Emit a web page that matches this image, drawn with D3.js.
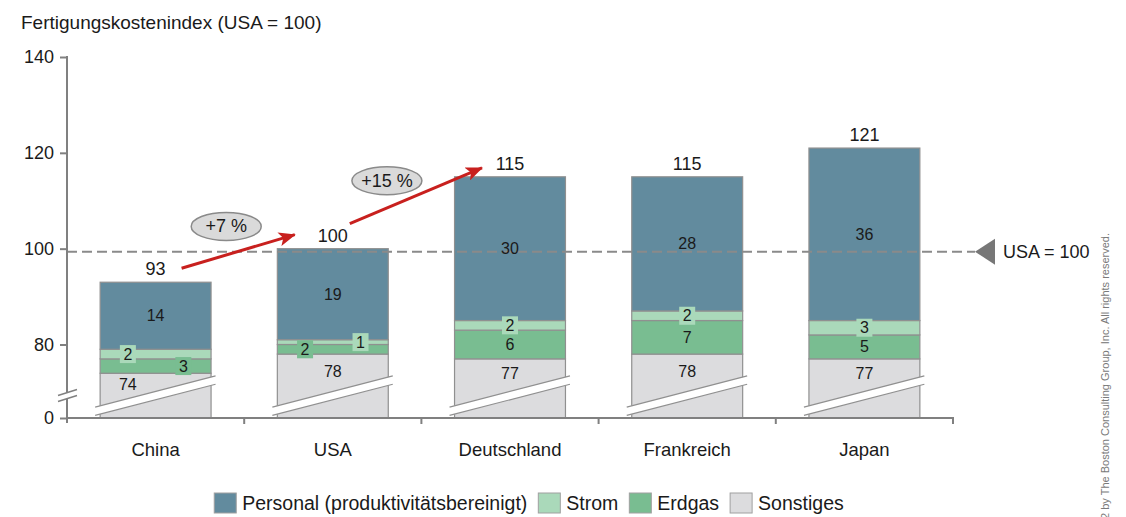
<!DOCTYPE html>
<html>
<head>
<meta charset="utf-8">
<script src="https://cdn.jsdelivr.net/npm/d3@7"></script>
<style>
  html, body { margin: 0; padding: 0; background: #fff; }
  svg { display: block; font-family: Arial, "Liberation Sans", Helvetica, sans-serif; }
</style>
</head>
<body>
<svg id="chart" width="1126" height="517"></svg>
<script>
// Fertigungskostenindex nach Land, gestapelt nach Kostenart
const categories = ["China", "USA", "Deutschland", "Frankreich", "Japan"];
const sonstiges = [74, 78, 77, 78, 77];
const erdgas    = [3, 2, 6, 7, 5];
const strom     = [2, 1, 2, 2, 3];
const personal  = [14, 19, 30, 28, 36];
const totals    = [93, 100, 115, 115, 121];
const yTicks    = [0, 80, 100, 120, 140];
const changeLabels = ["+7 %", "+15 %"];
const seriesNames = ["Personal (produktivitätsbereinigt)", "Strom", "Erdgas", "Sonstiges"];
const referenceValue = 100;

const colors = {
  Sonstiges: "#dcdcde",
  Erdgas: "#79bd91",
  Strom: "#aad9ba",
  Personal: "#628b9e"
};
const segStroke = "#909090";
const axisColor = "#808080";

const svg = d3.select("#chart");

// rows for the stack, bottom to top
const keys = ["Sonstiges", "Erdgas", "Strom", "Personal"];
const rows = categories.map((c, i) => ({
  category: c, Sonstiges: sonstiges[i], Erdgas: erdgas[i], Strom: strom[i], Personal: personal[i], total: totals[i], idx: i
}));
const stacked = d3.stack().keys(keys)(rows);

// broken value axis: 0 at the baseline, linear from 65 upwards
const yUpper = d3.scaleLinear().domain([80, 140]).range([344.5, 57]);
const y = d3.scaleLinear().domain([0, 65, 140]).range([418, yUpper(65), yUpper(140)]);

const x = d3.scaleBand().domain(categories).range([67, 953]).paddingInner(0.374).paddingOuter(0.187);
const bw = x.bandwidth();
const baseY = y(0);

// title
svg.append("text").attr("x", 21).attr("y", 29).attr("font-size", 19).attr("fill", "#1a1a1a")
  .text("Fertigungskostenindex (USA = 100)");

// bars
const g = svg.append("g");
stacked.forEach(layer => {
  g.selectAll(null).data(layer).enter().append("rect")
    .attr("x", d => x(d.data.category))
    .attr("y", d => y(d[1]))
    .attr("width", bw)
    .attr("height", d => y(d[0]) - y(d[1]))
    .attr("fill", colors[layer.key])
    .attr("stroke", segStroke)
    .attr("stroke-width", 1.2);
});

// break band across each bar
const bandUpper = (x0, px) => baseY - 11.3 - (px - (x0 - 3.5)) * 0.2587;
categories.forEach(c => {
  const x0 = x(c), x1 = x0 + bw;
  const lx = x0 - 5, rx = x1 + 4.5;
  const pts = [[lx, bandUpper(x0, lx)], [rx, bandUpper(x0, rx)], [rx, bandUpper(x0, rx) + 8.3], [lx, bandUpper(x0, lx) + 8.3]];
  svg.append("path").attr("d", d3.line()(pts) + "Z").attr("fill", "#fff").attr("stroke", "none");
  svg.append("line").attr("x1", pts[0][0]).attr("y1", pts[0][1]).attr("x2", pts[1][0]).attr("y2", pts[1][1])
    .attr("stroke", segStroke).attr("stroke-width", 1.2);
  svg.append("line").attr("x1", pts[3][0]).attr("y1", pts[3][1]).attr("x2", pts[2][0]).attr("y2", pts[2][1])
    .attr("stroke", segStroke).attr("stroke-width", 1.2);
});

// reference line
svg.append("line")
  .attr("x1", 67).attr("x2", 975)
  .attr("y1", y(referenceValue) + 3).attr("y2", y(referenceValue) + 3)
  .attr("stroke", "#8a8a8a").attr("stroke-width", 2).attr("stroke-dasharray", "10,5");
const ry = y(referenceValue) + 3;
svg.append("path").attr("d", `M975,${ry} L995,${ry - 13} L995,${ry + 13} Z`).attr("fill", "#777");
svg.append("text").attr("x", 1003).attr("y", ry + 6.5).attr("font-size", 18).attr("fill", "#1a1a1a").text("USA = 100");

// segment labels
const labelSize = 16;
rows.forEach((r, i) => {
  const x0 = x(r.category), cx = x0 + bw / 2;
  const segs = {};
  stacked.forEach(layer => { segs[layer.key] = layer[i]; });

  // Personal: centred in segment
  const p = segs.Personal;
  svg.append("text").attr("x", cx).attr("y", (y(p[0]) + y(p[1])) / 2 + 5.5)
    .attr("text-anchor", "middle").attr("font-size", labelSize).attr("fill", "#1a1a1a").text(r.Personal);

  // Sonstiges: between segment top and break band
  const s = segs.Sonstiges;
  let sx = cx;
  if (bandUpper(x0, cx) - y(s[1]) < 22) sx = x0 + bw / 4;
  const sy = (y(s[1]) + bandUpper(x0, sx)) / 2 - 1.5;
  svg.append("text").attr("x", sx).attr("y", sy + 5.5)
    .attr("text-anchor", "middle").attr("font-size", labelSize).attr("fill", "#1a1a1a").text(r.Sonstiges);

  // small segments get a boxed label; two boxed labels sit side by side
  const small = ["Strom", "Erdgas"].filter(k => r[k] <= 3);
  ["Strom", "Erdgas"].forEach(k => {
    const d = segs[k];
    const my = (y(d[0]) + y(d[1])) / 2;
    let lx = cx;
    if (small.length === 2) {
      const left = (i % 2 === 0) ? (k === "Strom") : (k === "Erdgas");
      lx = left ? cx - bw / 4 : cx + bw / 4;
    }
    if (r[k] <= 3) {
      svg.append("rect").attr("x", lx - 8).attr("y", my - 9).attr("width", 16).attr("height", 18)
        .attr("fill", colors[k]);
    }
    svg.append("text").attr("x", lx).attr("y", my + 5.5)
      .attr("text-anchor", "middle").attr("font-size", labelSize).attr("fill", "#1a1a1a").text(r[k]);
  });

  // total above bar
  svg.append("text").attr("x", cx).attr("y", y(r.total) - 7)
    .attr("text-anchor", "middle").attr("font-size", 18).attr("fill", "#1a1a1a").text(r.total);
});

// axes
const yAxis = d3.axisLeft(y).tickValues(yTicks).tickSize(7).tickPadding(6);
const ya = svg.append("g").attr("transform", "translate(67,0)").call(yAxis);
ya.select(".domain").remove();
ya.selectAll(".tick line").attr("stroke", axisColor).attr("stroke-width", 2);
ya.selectAll(".tick text").attr("font-size", 18).attr("fill", "#1a1a1a").attr("font-family", null);

// y axis line with a break
svg.append("line").attr("x1", 67).attr("x2", 67).attr("y1", y(140) - 1).attr("y2", 393).attr("stroke", axisColor).attr("stroke-width", 2);
svg.append("line").attr("x1", 67).attr("x2", 67).attr("y1", 398.5).attr("y2", baseY + 5).attr("stroke", axisColor).attr("stroke-width", 2);
[[58, 395.5, 77, 389.5], [58, 401.5, 77, 395.5]].forEach(l => {
  svg.append("line").attr("x1", l[0]).attr("y1", l[1]).attr("x2", l[2]).attr("y2", l[3])
    .attr("stroke", axisColor).attr("stroke-width", 1.5);
});

// x axis with ticks at band boundaries
svg.append("line").attr("x1", 66).attr("x2", 954).attr("y1", baseY).attr("y2", baseY).attr("stroke", axisColor).attr("stroke-width", 2);
categories.forEach((c, i) => {
  const bx = x.range()[0] + x.step() * (i + 1);
  svg.append("line").attr("x1", bx).attr("x2", bx).attr("y1", baseY).attr("y2", baseY + 6).attr("stroke", axisColor).attr("stroke-width", 2);
});
svg.selectAll(null).data(categories).enter().append("text")
  .attr("x", d => x(d) + bw / 2).attr("y", 455.5)
  .attr("text-anchor", "middle").attr("font-size", 18.5).attr("fill", "#1a1a1a").text(d => d);

// growth arrows with percentage bubbles
svg.append("defs").append("marker")
  .attr("id", "arrowhead").attr("markerUnits", "userSpaceOnUse")
  .attr("markerWidth", 18).attr("markerHeight", 14).attr("refX", 16).attr("refY", 7).attr("orient", "auto")
  .append("path").attr("d", "M0,0 L17,7 L0,14 L4,7 Z").attr("fill", "#c8201e");

const cxOf = i => x(categories[i]) + bw / 2;
const arrows = [
  { from: [cxOf(0) + 26, y(totals[0]) - 14], to: [cxOf(1) - 38, y(totals[1]) - 14], bubble: [-12, -25] },
  { from: [cxOf(1) + 17, y(totals[1]) - 25], to: [cxOf(2) - 28, y(totals[2]) - 9], bubble: [-29, -15] }
];
arrows.forEach((a, i) => {
  svg.append("line").attr("x1", a.from[0]).attr("y1", a.from[1]).attr("x2", a.to[0]).attr("y2", a.to[1])
    .attr("stroke", "#c8201e").attr("stroke-width", 3).attr("marker-end", "url(#arrowhead)");
  const mx = (a.from[0] + a.to[0]) / 2 + a.bubble[0];
  const my = (a.from[1] + a.to[1]) / 2 + a.bubble[1];
  svg.append("ellipse").attr("cx", mx).attr("cy", my).attr("rx", 35).attr("ry", 14)
    .attr("fill", "#dadada").attr("stroke", "#8a8a8a").attr("stroke-width", 1.5);
  svg.append("text").attr("x", mx).attr("y", my + 6).attr("text-anchor", "middle")
    .attr("font-size", 18).attr("fill", "#1a1a1a").text(changeLabels[i]);
});

// legend
const legendKeys = ["Personal", "Strom", "Erdgas", "Sonstiges"];
const lg = svg.append("g");
let lx = 0;
legendKeys.forEach((k, i) => {
  const item = lg.append("g").attr("transform", `translate(${lx},0)`);
  item.append("rect").attr("x", 0).attr("y", 0).attr("width", 22).attr("height", 20)
    .attr("fill", colors[k]).attr("stroke", "#a0a0a0").attr("stroke-width", 1);
  const t = item.append("text").attr("x", 28).attr("y", 16.5).attr("font-size", 19.5).attr("fill", "#1a1a1a").text(seriesNames[i]);
  lx += 28 + t.node().getComputedTextLength() + 11;
});
const legendWidth = lx - 11;
lg.attr("transform", `translate(${529 - legendWidth / 2},493)`);

// copyright notice
svg.append("text")
  .attr("transform", "translate(1109,233) rotate(-90)")
  .attr("text-anchor", "end").attr("font-size", 11).attr("fill", "#7a7a7a")
  .text("© 2012 by The Boston Consulting Group, Inc. All rights reserved.");
</script>
</body>
</html>
